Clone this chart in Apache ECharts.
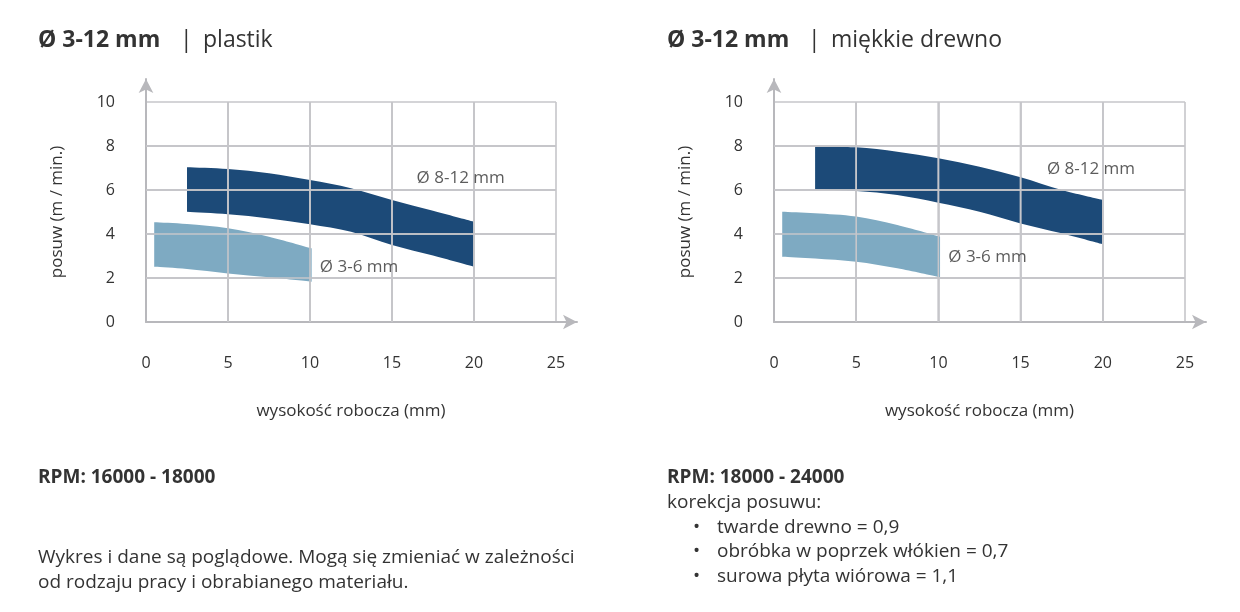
<!DOCTYPE html>
<html>
<head>
<meta charset="utf-8">
<script src="https://cdn.jsdelivr.net/npm/echarts/dist/echarts.min.js"></script>
<style>
  html, body { margin: 0; padding: 0; background: #fff; }
  #chart { width: 1240px; height: 612px; }
</style>
</head>
<body>
<div id="chart"></div>
<script>
// --- dane ---
const xTicks = [0, 5, 10, 15, 20, 25];
const yTicks = [0, 2, 4, 6, 8, 10];

// plastik
const darkXL   = [2.5, 5, 7.5, 10, 12.5, 15, 17.5, 20];
const darkTopL = [7.03, 6.95, 6.76, 6.45, 6.08, 5.55, 5.06, 4.56];
const darkBotL = [5.01, 4.9, 4.71, 4.44, 4.1, 3.5, 3.02, 2.51];
const lightXL   = [0.5, 2.5, 5, 7.5, 10.1];
const lightTopL = [4.53, 4.45, 4.26, 3.88, 3.35];
const lightBotL = [2.51, 2.41, 2.21, 2.03, 1.83];

// miękkie drewno
const darkXR   = [2.5, 5, 7.5, 10, 12.5, 15, 17.5, 20];
const darkTopR = [7.97, 7.94, 7.74, 7.44, 7.06, 6.58, 6.0, 5.55];
const darkBotR = [6.02, 5.95, 5.77, 5.42, 5.01, 4.48, 4.03, 3.53];
const lightXR   = [0.5, 2.5, 5, 7.5, 10.1];
const lightTopR = [5.01, 4.94, 4.79, 4.41, 3.88];
const lightBotR = [2.97, 2.89, 2.74, 2.44, 2.03];

// etykiety pasm [x, y, tekst]
const labelsL = [[16.5, 6.55, 'Ø 8-12 mm'], [10.6, 2.5, 'Ø 3-6 mm']];
const labelsR = [[16.6, 6.94, 'Ø 8-12 mm'], [10.6, 2.94, 'Ø 3-6 mm']];

const FONT = '"Open Sans", "Noto Sans", sans-serif';
const TXT = '#333';
const DARK = '#1c4a78';
const LIGHT = '#7eaac2';
const GRID_C = '#c6c6ca';
const AXIS_C = '#b8b8bc';

const X_MAX = xTicks[xTicks.length - 1], Y_MAX = yTicks[yTicks.length - 1];

function mainAxes(gi) {
  return {
    x: {
      type: 'value', gridIndex: gi, min: xTicks[0], max: X_MAX, interval: 5,
      axisLine: { show: false }, axisTick: { show: false },
      axisLabel: { margin: 33, fontSize: 16, color: TXT, fontFamily: FONT },
      splitLine: { show: true, lineStyle: { color: GRID_C, width: 1.6 } },
      name: 'wysokość robocza (mm)', nameLocation: 'middle', nameGap: 81,
      nameTextStyle: { fontSize: 17, color: TXT, fontFamily: FONT }
    },
    y: {
      type: 'value', gridIndex: gi, min: yTicks[0], max: Y_MAX, interval: 2,
      axisLine: { show: false }, axisTick: { show: false },
      axisLabel: { margin: 31, fontSize: 16, color: TXT, fontFamily: FONT },
      splitLine: { show: true, lineStyle: { color: GRID_C, width: 1.6 } },
      name: 'posuw (m / min.)', nameLocation: 'middle', nameGap: 80,
      nameTextStyle: { fontSize: 17, color: TXT, fontFamily: FONT }
    }
  };
}

// osie ze strzałkami (osobny grid, tylko linia)
function arrowAxis(gi) {
  const base = {
    type: 'value', gridIndex: gi, min: 0, max: 1,
    axisTick: { show: false }, axisLabel: { show: false }, splitLine: { show: false },
    axisLine: { show: true, symbol: ['none', 'arrow'], symbolSize: [11, 14],
      lineStyle: { color: AXIS_C, width: 2 } }
  };
  return { x: { ...base }, y: { ...base } };
}

// catmull-rom -> bezier przez punkty w pikselach
function curve(pts, start) {
  let d = start ? `M${pts[0][0]},${pts[0][1]}` : `L${pts[0][0]},${pts[0][1]}`;
  for (let i = 0; i < pts.length - 1; i++) {
    const p0 = pts[Math.max(0, i - 1)], p1 = pts[i], p2 = pts[i + 1], p3 = pts[Math.min(pts.length - 1, i + 2)];
    const c1 = [p1[0] + (p2[0] - p0[0]) / 6, p1[1] + (p2[1] - p0[1]) / 6];
    const c2 = [p2[0] - (p3[0] - p1[0]) / 6, p2[1] - (p3[1] - p1[1]) / 6];
    d += `C${c1[0]},${c1[1]} ${c2[0]},${c2[1]} ${p2[0]},${p2[1]}`;
  }
  return d;
}

// linie siatki na wierzchu pasma (w oryginale siatka leży nad wypełnieniem)
function gridOverlay(api) {
  const ln = (a, b) => ({
    type: 'line', silent: true,
    shape: { x1: a[0], y1: a[1], x2: b[0], y2: b[1] },
    style: { stroke: GRID_C, lineWidth: 1.6 }
  });
  return [
    ...xTicks.slice(1, -1).map(v => ln(api.coord([v, 0]), api.coord([v, Y_MAX]))),
    ...yTicks.slice(1, -1).map(v => ln(api.coord([0, v]), api.coord([X_MAX, v])))
  ];
}

function bandSeries(ai, xs, top, bot, color) {
  return {
    type: 'custom', xAxisIndex: ai, yAxisIndex: ai, silent: true, clip: false,
    data: xs.map((x, i) => [x, top[i], bot[i]]),
    encode: { x: 0, y: [1, 2] },
    renderItem: (params, api) => {
      if (params.dataIndex !== 0) return null;
      const topPts = xs.map((x, i) => api.coord([x, top[i]]));
      const botPts = xs.map((x, i) => api.coord([x, bot[i]])).reverse();
      return {
        type: 'group',
        children: [
          {
            type: 'path',
            shape: { pathData: curve(topPts, true) + curve(botPts, false) + 'Z' },
            style: { fill: color }
          },
          ...gridOverlay(api)
        ]
      };
    }
  };
}

function labelSeries(ai, data) {
  return {
    type: 'scatter', xAxisIndex: ai, yAxisIndex: ai, symbolSize: 0, z: 20, silent: true,
    data: data,
    label: {
      show: true, position: 'right', distance: 0,
      formatter: p => p.value[2],
      fontSize: 17, color: TXT, fontFamily: FONT
    }
  };
}

const mL = mainAxes(0), aL = arrowAxis(1), mR = mainAxes(2), aR = arrowAxis(3);

const txt = (x, y, text, size, bold) => ({
  type: 'text', x: x, y: y, silent: true,
  style: { text: text, fill: TXT, font: `${bold ? 'bold ' : ''}${size}px ${FONT}`, verticalAlign: 'middle' }
});

const chart = echarts.init(document.getElementById('chart'));
chart.setOption({
  animation: false,
  grid: [
    { left: 146, top: 102, width: 410, height: 220 },
    { left: 146, top: 79, width: 431, height: 243 },
    { left: 774, top: 102, width: 411, height: 220 },
    { left: 774, top: 79, width: 432, height: 243 }
  ],
  xAxis: [mL.x, aL.x, mR.x, aR.x],
  yAxis: [mL.y, aL.y, mR.y, aR.y],
  series: [
    bandSeries(0, darkXL, darkTopL, darkBotL, DARK),
    bandSeries(0, lightXL, lightTopL, lightBotL, LIGHT),
    labelSeries(0, labelsL),
    bandSeries(2, darkXR, darkTopR, darkBotR, DARK),
    bandSeries(2, lightXR, lightTopR, lightBotR, LIGHT),
    labelSeries(2, labelsR)
  ],
  graphic: [
    txt(38, 40, 'Ø 3-12 mm', 23, true),
    txt(180, 40, '|', 23, false),
    txt(203, 40, 'plastik', 23, false),
    txt(667, 40, 'Ø 3-12 mm', 23, true),
    txt(808, 40, '|', 23, false),
    txt(831, 40, 'miękkie drewno', 23, false),

    txt(38, 478, 'RPM: 16000 - 18000', 19, true),
    txt(38, 558, 'Wykres i dane są poglądowe. Mogą się zmieniać w zależności', 19, false),
    txt(38, 583, 'od rodzaju pracy i obrabianego materiału.', 19, false),

    txt(667, 478, 'RPM: 18000 - 24000', 19, true),
    txt(667, 503, 'korekcja posuwu:', 19, false),
    txt(693, 528, '•', 19, false),
    txt(717, 528, 'twarde drewno = 0,9', 19, false),
    txt(693, 552, '•', 19, false),
    txt(717, 552, 'obróbka w poprzek włókien = 0,7', 19, false),
    txt(693, 577, '•', 19, false),
    txt(717, 577, 'surowa płyta wiórowa = 1,1', 19, false)
  ]
});
</script>
</body>
</html>
